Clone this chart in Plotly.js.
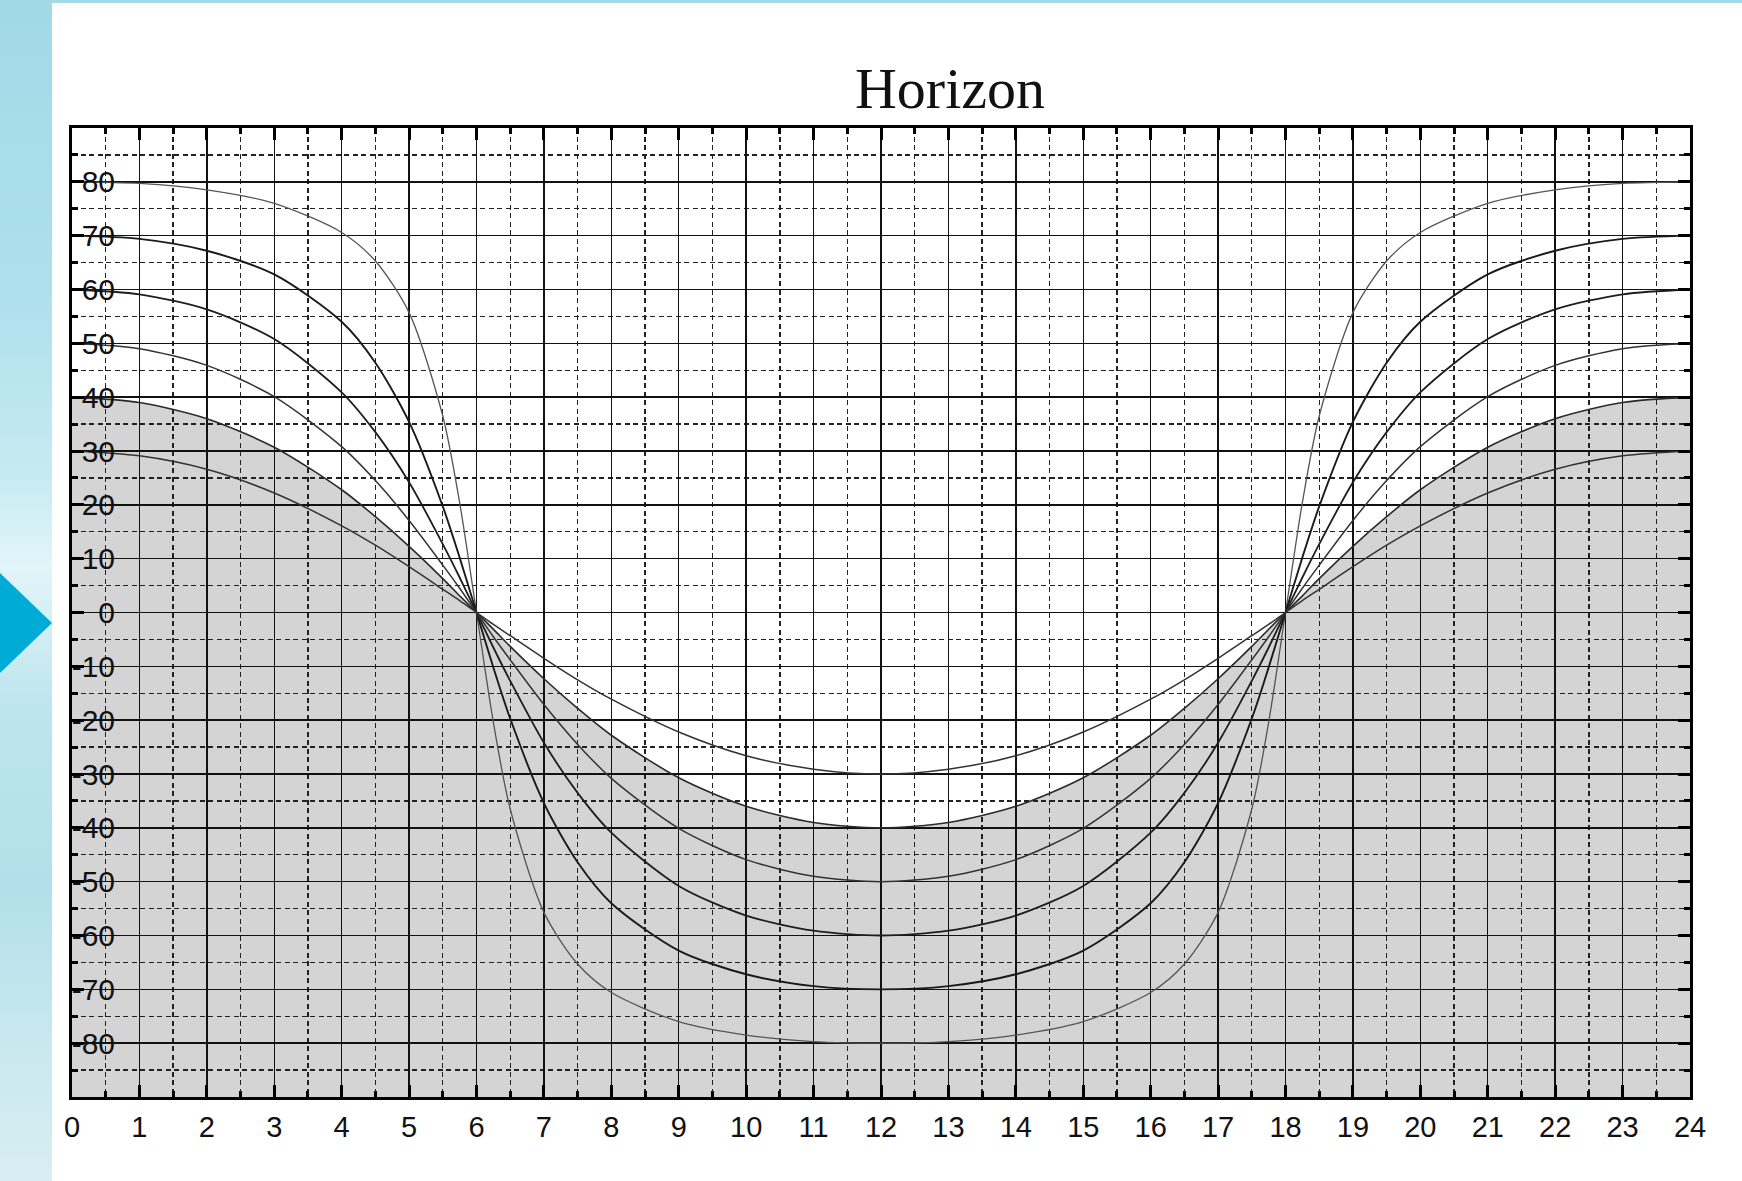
<!DOCTYPE html>
<html>
<head>
<meta charset="utf-8">
<script src="https://cdn.plot.ly/plotly-3.0.1.min.js"></script>
<style>
  html, body { margin: 0; padding: 0; }
  body {
    width: 1742px; height: 1181px; position: relative; overflow: hidden;
    background: linear-gradient(180deg, #a2d9e7 0%, #aee0eb 25%, #c6eaf2 40%, #e2f5f9 48%, #bde5ee 60%, #b2dfe9 75%, #cbe9ef 90%, #d8eef2 100%);
  }
  #panel { position: absolute; left: 52px; top: 3px; right: 0; bottom: 0; background: #ffffff; }
  #arrow { position: absolute; left: 0; top: 573px; width: 52px; height: 100px;
           background: #00acd6; clip-path: polygon(0 0, 100% 50%, 0 100%); }
  #chart { position: absolute; left: 0; top: 0; width: 1742px; height: 1181px; }
</style>
</head>
<body>
<div id="panel"></div>
<div id="arrow"></div>
<div id="chart"></div>
<script>
// ---- data ----
const chartTitle = "Horizon";
const hours = [0,1,2,3,4,4.5,5,5.5,5.75,6,6.25,6.5,7,7.5,8,9,10,11,12,13,14,15,16,16.5,17,17.5,17.75,18,18.25,18.5,19,19.5,20,21,22,23,24];

const alt30 = [30,29.1,26.6,22.2,16.1,12.5,8.5,4.3,2.2, 0, -2.2,-4.3,-8.5,-12.5,-16.1,-22.2,-26.6,-29.1,-30, -29.1,-26.6,-22.2,-16.1,-12.5,-8.5,-4.3,-2.2, 0, 2.2,4.3,8.5,12.5,16.1,22.2,26.6,29.1,30];
const alt40 = [40,39.0,36.0,30.7,22.8,17.8,12.3,6.3,3.1, 0, -3.1,-6.3,-12.3,-17.8,-22.8,-30.7,-36.0,-39.0,-40, -39.0,-36.0,-30.7,-22.8,-17.8,-12.3,-6.3,-3.1, 0, 3.1,6.3,12.3,17.8,22.8,30.7,36.0,39.0,40];
const alt50 = [50,49.0,45.9,40.1,30.8,24.5,17.1,8.8,4.5, 0, -4.5,-8.8,-17.1,-24.5,-30.8,-40.1,-45.9,-49.0,-50, -49.0,-45.9,-40.1,-30.8,-24.5,-17.1,-8.8,-4.5, 0, 4.5,8.8,17.1,24.5,30.8,40.1,45.9,49.0,50];
const alt60 = [60,59.1,56.3,50.8,40.9,33.5,24.2,12.7,6.5, 0, -6.5,-12.7,-24.2,-33.5,-40.9,-50.8,-56.3,-59.1,-60, -59.1,-56.3,-50.8,-40.9,-33.5,-24.2,-12.7,-6.5, 0, 6.5,12.7,24.2,33.5,40.9,50.8,56.3,59.1,60];
const alt70 = [70,69.4,67.2,62.8,54.0,46.4,35.4,19.7,10.2, 0, -10.2,-19.7,-35.4,-46.4,-54.0,-62.8,-67.2,-69.4,-70, -69.4,-67.2,-62.8,-54.0,-46.4,-35.4,-19.7,-10.2, 0, 10.2,19.7,35.4,46.4,54.0,62.8,67.2,69.4,70];
const alt80 = [80,79.7,78.5,76.0,70.6,65.3,55.7,36.5,20.4, 0, -20.4,-36.5,-55.7,-65.3,-70.6,-76.0,-78.5,-79.7,-80, -79.7,-78.5,-76.0,-70.6,-65.3,-55.7,-36.5,-20.4, 0, 20.4,36.5,55.7,65.3,70.6,76.0,78.5,79.7,80];

const xTickVals = [0,1,2,3,4,5,6,7,8,9,10,11,12,13,14,15,16,17,18,19,20,21,22,23,24];
const xTickText = ["0","1","2","3","4","5","6","7","8","9","10","11","12","13","14","15","16","17","18","19","20","21","22","23","24"];
const yTickVals = [80,70,60,50,40,30,20,10,0,-10,-20,-30,-40,-50,-60,-70,-80];
const yTickText = ["80","70","60","50","40","30","20","10","0","-10","-20","-30","-40","-50","-60","-70","-80"];
const xRange = [0, 24];
const yRange = [-90, 90];

// ---- styles ----
const curveSets = [
  {y: alt80, color: '#555555', width: 1.3},
  {y: alt70, color: '#1a1a1a', width: 1.9},
  {y: alt60, color: '#1e1e1e', width: 1.8},
  {y: alt50, color: '#333333', width: 1.5},
  {y: alt40, color: '#2a2a2a', width: 1.6},
  {y: alt30, color: '#333333', width: 1.5}
];

const traces = [
  {x: hours, y: hours.map(() => yRange[0]), xaxis: 'x', yaxis: 'y', mode: 'lines',
   line: {width: 0}, hoverinfo: 'skip', showlegend: false},
  {x: hours, y: alt40, xaxis: 'x', yaxis: 'y', mode: 'lines', fill: 'tonexty',
   fillcolor: '#d4d4d4', line: {width: 0, shape: 'spline', smoothing: 0.8},
   hoverinfo: 'skip', showlegend: false}
];
curveSets.forEach(c => traces.push({
  x: hours, y: c.y, xaxis: 'x2', yaxis: 'y2', mode: 'lines',
  line: {color: c.color, width: c.width, shape: 'spline', smoothing: 0.8},
  showlegend: false
}));

const xFont = {family: 'Liberation Sans, Arial, sans-serif', size: 29, color: '#111111'};
const yFont = {family: 'Liberation Sans, Arial, sans-serif', size: 30, color: '#111111'};

const layout = {
  width: 1742, height: 1181,
  margin: {l: 72, r: 52, t: 128, b: 84},
  paper_bgcolor: 'rgba(0,0,0,0)',
  plot_bgcolor: 'rgba(0,0,0,0)',
  showlegend: false,
  title: {
    text: chartTitle,
    font: {family: 'Liberation Serif, serif', size: 58, color: '#111111'},
    xref: 'container', x: 950 / 1742, xanchor: 'center',
    yref: 'container', y: 1 - 88 / 1181, yanchor: 'middle'
  },
  xaxis: {range: xRange, visible: false, fixedrange: true},
  yaxis: {range: yRange, visible: false, fixedrange: true},
  xaxis2: {
    anchor: 'y2', range: xRange,
    tickmode: 'array', tickvals: xTickVals, ticktext: xTickText,
    ticks: 'inside', ticklen: 12, tickwidth: 3, tickcolor: '#000000',
    showline: true, linewidth: 3, linecolor: '#000000', mirror: 'ticks',
    showgrid: true, gridcolor: '#111111', gridwidth: 1.4, zeroline: false,
    tickfont: xFont, ticklabelstandoff: 2,
    minor: {tickmode: 'linear', tick0: 0, dtick: 0.5, ticks: 'inside', ticklen: 6,
            tickwidth: 3, tickcolor: '#000000', showgrid: true, gridcolor: '#222222',
            gridwidth: 1.3, griddash: '5px,3.5px'}
  },
  yaxis2: {
    anchor: 'x2', range: yRange,
    tickmode: 'array', tickvals: yTickVals, ticktext: yTickText,
    ticks: 'inside', ticklen: 12, tickwidth: 3, tickcolor: '#000000',
    showline: true, linewidth: 3, linecolor: '#000000', mirror: 'ticks',
    showgrid: true, gridcolor: '#111111', gridwidth: 1.4, zeroline: false,
    ticklabelposition: 'outside', ticklabelstandoff: -52, tickfont: yFont,
    minor: {tickmode: 'linear', tick0: 0, dtick: 5, ticks: 'inside', ticklen: 6,
            tickwidth: 3, tickcolor: '#000000', showgrid: true, gridcolor: '#222222',
            gridwidth: 1.3, griddash: '5px,3.5px'}
  }
};

Plotly.newPlot('chart', traces, layout, {displayModeBar: false, staticPlot: true});
</script>
</body>
</html>
